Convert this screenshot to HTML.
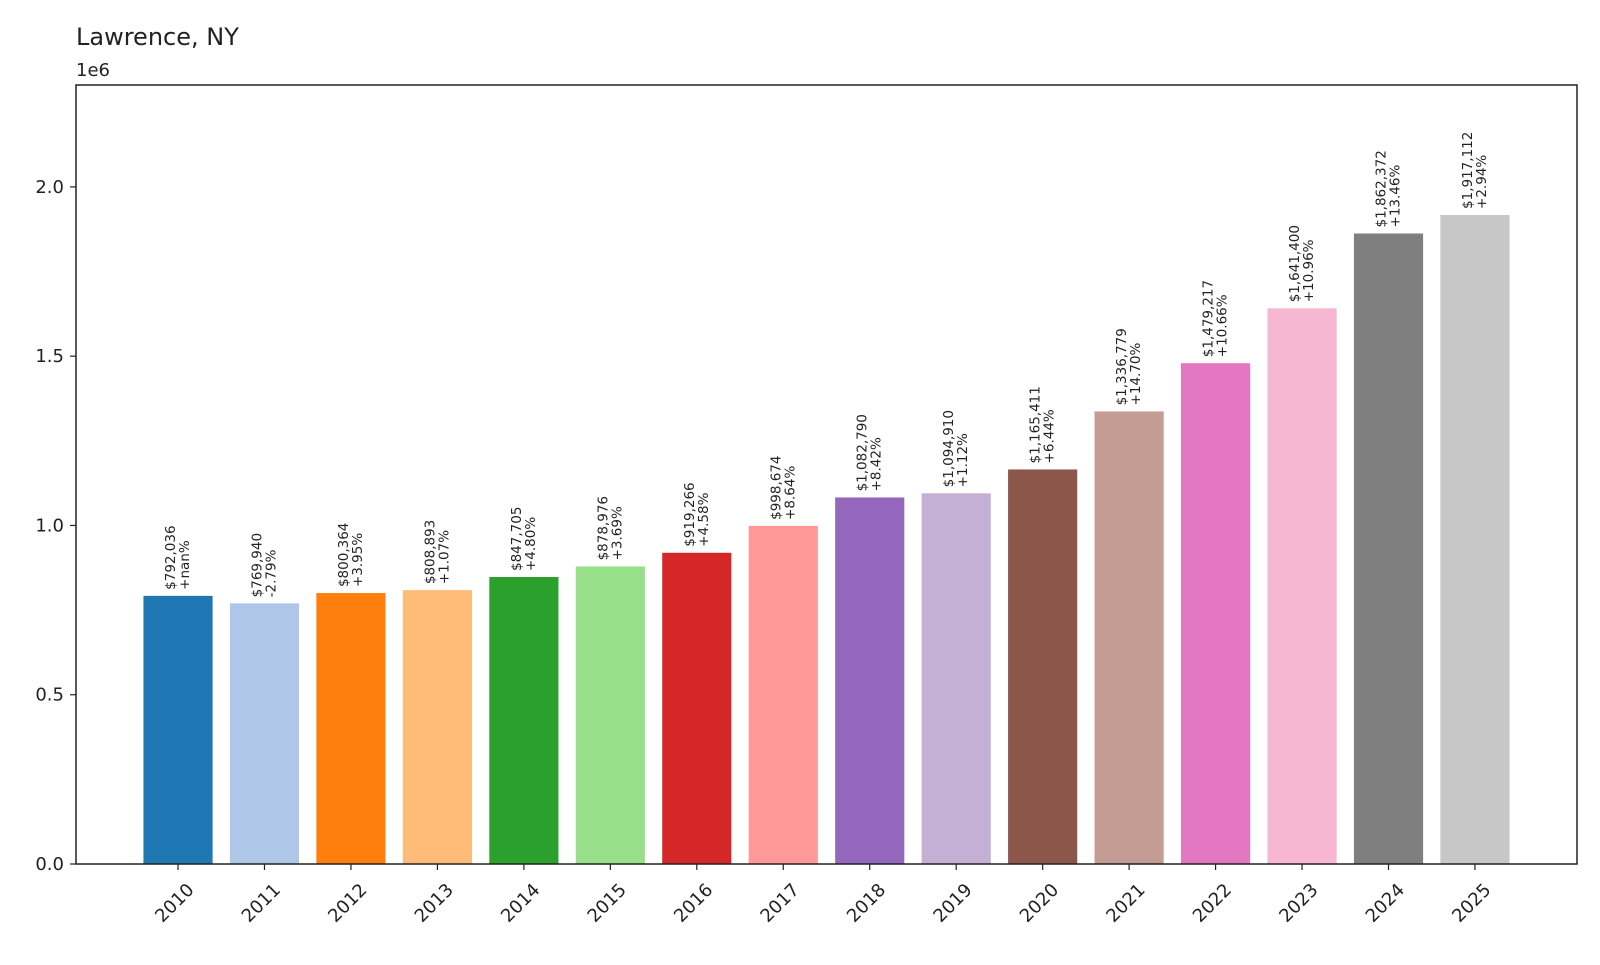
<!DOCTYPE html>
<html><head><meta charset="utf-8"><style>
body{margin:0;background:#fff;}
svg{font-family:"DejaVu Sans","Liberation Sans",sans-serif;}
</style></head><body>
<svg id="chart" width="1600" height="960" viewBox="0 0 1600 960">
<text x="76" y="45" font-size="24" fill="#222">Lawrence, NY</text>
<text x="76" y="76" font-size="18" fill="#222">1e6</text>
<g id="bars"></g>
<g id="yticks"></g>
<g id="xticks"></g>
<rect x="76" y="85" width="1501" height="779" fill="none" stroke="#222" stroke-width="1.5"/>
</svg>
<script>
const years = ["2010","2011","2012","2013","2014","2015","2016","2017","2018","2019","2020","2021","2022","2023","2024","2025"];
const values = [792036,769940,800364,808893,847705,878976,919266,998674,1082790,1094910,1165411,1336779,1479217,1641400,1862372,1917112];
const changes = ["+nan%","-2.79%","+3.95%","+1.07%","+4.80%","+3.69%","+4.58%","+8.64%","+8.42%","+1.12%","+6.44%","+14.70%","+10.66%","+10.96%","+13.46%","+2.94%"];
const yTicks = [0,0.5,1.0,1.5,2.0];
const colors = ["#1f77b4","#aec7e8","#ff7f0e","#ffbb78","#2ca02c","#98df8a","#d62728","#ff9896","#9467bd","#c5b0d5","#8c564b","#c49c94","#e377c2","#f7b6d2","#7f7f7f","#c7c7c7"];
const NS="http://www.w3.org/2000/svg";
const x0=76,x1=1577,yb=864,yt=85;
const xmin=-1.18,xmax=years.length-1+1.18;
const ymax=2.301e6;
const xs=i=>x0+(i-xmin)/(xmax-xmin)*(x1-x0);
const ys=v=>yb-v/ymax*(yb-yt);
const bw=0.8*(x1-x0)/(xmax-xmin);
const fmt=v=>"$"+v.toLocaleString("en-US");
const gb=document.getElementById("bars"),gx=document.getElementById("xticks"),gy=document.getElementById("yticks");
values.forEach((v,i)=>{
  const cx=xs(i);
  const r=document.createElementNS(NS,"rect");
  
  
  r.setAttribute("x",cx-bw/2);r.setAttribute("y",ys(v));r.setAttribute("width",bw);r.setAttribute("height",yb-ys(v));r.setAttribute("fill",colors[i]);
  gb.appendChild(r);
  const t=document.createElementNS(NS,"text");
  
  
  t.setAttribute("transform","translate("+cx+","+(ys(v)-6)+") rotate(-90)");
  t.setAttribute("font-size","13.5");t.setAttribute("fill","#222");t.setAttribute("text-anchor","middle");
  const a=document.createElementNS(NS,"tspan");a.setAttribute("x",0);a.setAttribute("y",-3);a.textContent=fmt(v);
  const b=document.createElementNS(NS,"tspan");b.setAttribute("x",0);b.setAttribute("y",11);b.textContent=changes[i];
  t.appendChild(a);t.appendChild(b);
  // anchor text so its end sits at bar top
  t.setAttribute("text-anchor","start");
  gb.appendChild(t);
  const tk=document.createElementNS(NS,"line");
  
  
  tk.setAttribute("x1",cx);tk.setAttribute("x2",cx);tk.setAttribute("y1",yb);tk.setAttribute("y2",yb+6);tk.setAttribute("stroke","#222");tk.setAttribute("stroke-width","1.2");
  gx.appendChild(tk);
  const lt=document.createElementNS(NS,"text");
  
  
  lt.setAttribute("transform","translate("+(cx+8)+","+(yb+18)+") rotate(-45)");
  lt.setAttribute("text-anchor","end");lt.setAttribute("font-size","18");lt.setAttribute("fill","#222");lt.setAttribute("dy","0.7em");
  lt.textContent=years[i];
  gx.appendChild(lt);
});
yTicks.forEach(t=>{
  const y=ys(t*1e6);
  const l=document.createElementNS(NS,"line");
  
  
  l.setAttribute("x1",x0-6);l.setAttribute("x2",x0);l.setAttribute("y1",y);l.setAttribute("y2",y);l.setAttribute("stroke","#222");l.setAttribute("stroke-width","1.2");
  gy.appendChild(l);
  const tx=document.createElementNS(NS,"text");
  
  
  tx.setAttribute("x",x0-12);tx.setAttribute("y",y+6);tx.setAttribute("text-anchor","end");tx.setAttribute("font-size","18");tx.setAttribute("fill","#222");
  tx.textContent=t.toFixed(1);
  gy.appendChild(tx);
});
</script>
</body></html>
